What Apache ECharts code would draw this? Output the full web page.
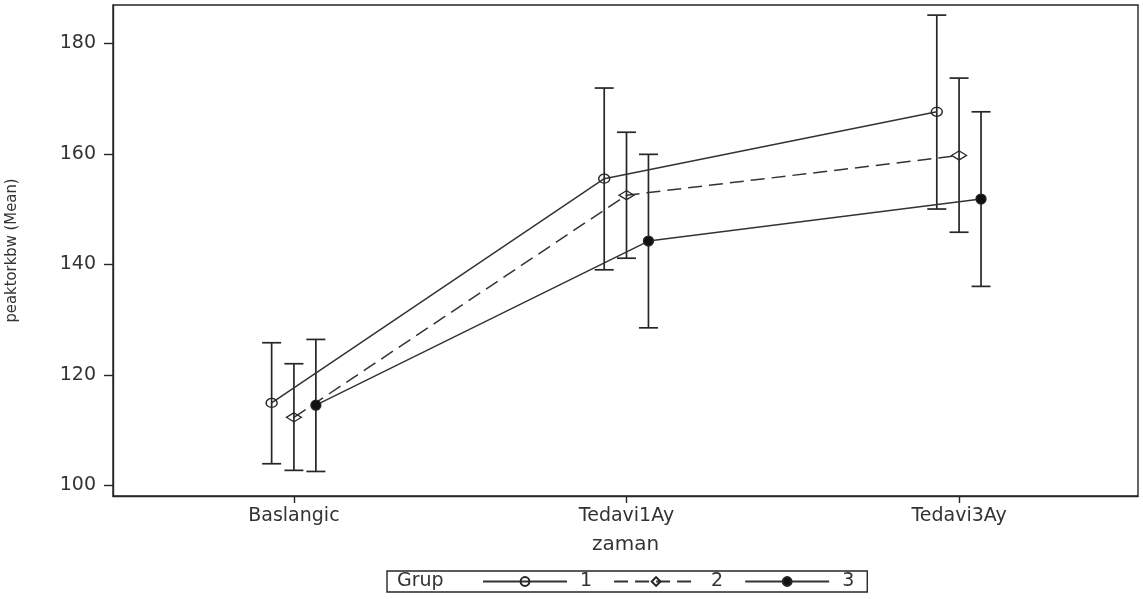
<!DOCTYPE html>
<html>
<head>
<meta charset="utf-8">
<script src="https://cdn.jsdelivr.net/npm/echarts@6/dist/echarts.min.js"></script>
<style>
  html, body { margin: 0; padding: 0; background: #fff; }
  #chart { width: 1143px; height: 599px; }
</style>
</head>
<body>
<div id="chart"></div>
<script>
// Time points (x axis categories)
const categories = ['Baslangic', 'Tedavi1Ay', 'Tedavi3Ay'];
// Group labels
const groups = ['1', '2', '3'];
// y axis tick values
const yTicks = [100, 120, 140, 160, 180];

// Means per group
const mean1 = [114.9, 155.5, 167.6];
const mean2 = [112.3, 152.5, 159.7];
const mean3 = [114.5, 144.2, 151.8];
// Error bar limits per group
const lower1 = [103.9, 139.0, 150.0];
const upper1 = [125.8, 171.9, 185.1];
const lower2 = [102.7, 141.1, 145.8];
const upper2 = [122.0, 163.9, 173.7];
const lower3 = [102.5, 128.5, 136.0];
const upper3 = [126.4, 159.9, 167.6];

const means = [mean1, mean2, mean3];
const lowers = [lower1, lower2, lower3];
const uppers = [upper1, upper2, upper3];

// horizontal dodge of the three groups around each time point
const dodge = [-0.067, 0, 0.066];

const INK = '#262626';
const FONT = "'DejaVu Sans', Verdana, sans-serif";

const symbols = [
  { symbol: 'circle', size: [11, 9], fill: 'rgba(0,0,0,0)' },
  { symbol: 'diamond', size: [15, 9], fill: 'rgba(0,0,0,0)' },
  { symbol: 'circle', size: 10, fill: '#111' }
];
const lineTypes = ['solid', [14, 7], 'solid'];

function errorBarSeries(g) {
  const data = categories.map((c, i) => [i + dodge[g], lowers[g][i], uppers[g][i]]);
  return {
    type: 'custom',
    name: 'err' + groups[g],
    silent: true,
    z: 2,
    data: data,
    encode: { x: 0, y: [1, 2] },
    renderItem: function (params, api) {
      const x = api.value(0);
      const lo = api.coord([x, api.value(1)]);
      const hi = api.coord([x, api.value(2)]);
      const half = 9.5;
      const style = { stroke: INK, lineWidth: 1.7, fill: null };
      return {
        type: 'group',
        children: [
          { type: 'line', shape: { x1: lo[0], y1: lo[1], x2: hi[0], y2: hi[1] }, style: style },
          { type: 'line', shape: { x1: lo[0] - half, y1: lo[1], x2: lo[0] + half, y2: lo[1] }, style: style },
          { type: 'line', shape: { x1: hi[0] - half, y1: hi[1], x2: hi[0] + half, y2: hi[1] }, style: style }
        ]
      };
    }
  };
}

function meanSeries(g) {
  return {
    type: 'line',
    name: groups[g],
    z: 3,
    data: categories.map((c, i) => [i + dodge[g], means[g][i]]),
    symbol: symbols[g].symbol,
    symbolSize: symbols[g].size,
    showAllSymbol: true,
    lineStyle: { color: '#333', width: 1.5, type: lineTypes[g] },
    itemStyle: { color: symbols[g].fill, borderColor: INK, borderWidth: 1.3 },
    emphasis: { disabled: true }
  };
}

const series = [];
for (let g = 0; g < groups.length; g++) series.push(errorBarSeries(g));
for (let g = 0; g < groups.length; g++) series.push(meanSeries(g));

const chart = echarts.init(document.getElementById('chart'), null, { renderer: 'canvas' });
chart.setOption({
  animation: false,
  backgroundColor: '#fff',
  grid: {
    left: 113, right: 5, top: 5, bottom: 103,
    outerBoundsMode: 'none',
    containLabel: false,
    show: true, borderColor: INK, borderWidth: 1.4, backgroundColor: 'transparent'
  },
  xAxis: {
    type: 'value',
    min: -0.544,
    max: 2.538,
    name: 'zaman',
    nameLocation: 'middle',
    nameGap: 39,
    nameTextStyle: { fontFamily: FONT, fontSize: 20, color: '#333' },
    axisLine: { onZero: false, lineStyle: { color: INK, width: 1.4 } },
    axisTick: { show: true, length: 7, customValues: categories.map((c, i) => i), lineStyle: { color: INK, width: 1.4 } },
    axisLabel: {
      customValues: categories.map((c, i) => i),
      formatter: v => categories[Math.round(v)],
      fontFamily: FONT, fontSize: 19, color: '#333', margin: 11
    },
    splitLine: { show: false }
  },
  yAxis: {
    type: 'value',
    min: 98.06,
    max: 186.93,
    name: 'peaktorkbw (Mean)',
    nameLocation: 'middle',
    nameGap: 93,
    nameTextStyle: { fontFamily: "'Liberation Sans Narrow', 'DejaVu Sans Condensed', sans-serif", fontSize: 16.5, color: '#333' },
    axisLine: { show: true, onZero: false, lineStyle: { color: INK, width: 1.4 } },
    axisTick: { show: true, length: 9, customValues: yTicks, lineStyle: { color: INK, width: 1.4 } },
    axisLabel: { customValues: yTicks, fontFamily: FONT, fontSize: 19, color: '#333', margin: 17 },
    splitLine: { show: false }
  },
  legend: {
    data: groups,
    left: 387,
    top: 571,
    orient: 'horizontal',
    padding: [1, 13, 1, 95],
    itemWidth: 84,
    itemHeight: 11,
    itemGap: 21,
    borderColor: INK,
    borderWidth: 1.4,
    textStyle: { fontFamily: FONT, fontSize: 19, color: '#333', padding: [0, 0, 0, 8] },
    selectedMode: false
  },
  graphic: [
    {
      type: 'text',
      left: 397,
      top: 572,
      style: { text: 'Grup', font: "19px 'DejaVu Sans', Verdana, sans-serif", fill: '#333' }
    }
  ],
  series: series
});
</script>
</body>
</html>
